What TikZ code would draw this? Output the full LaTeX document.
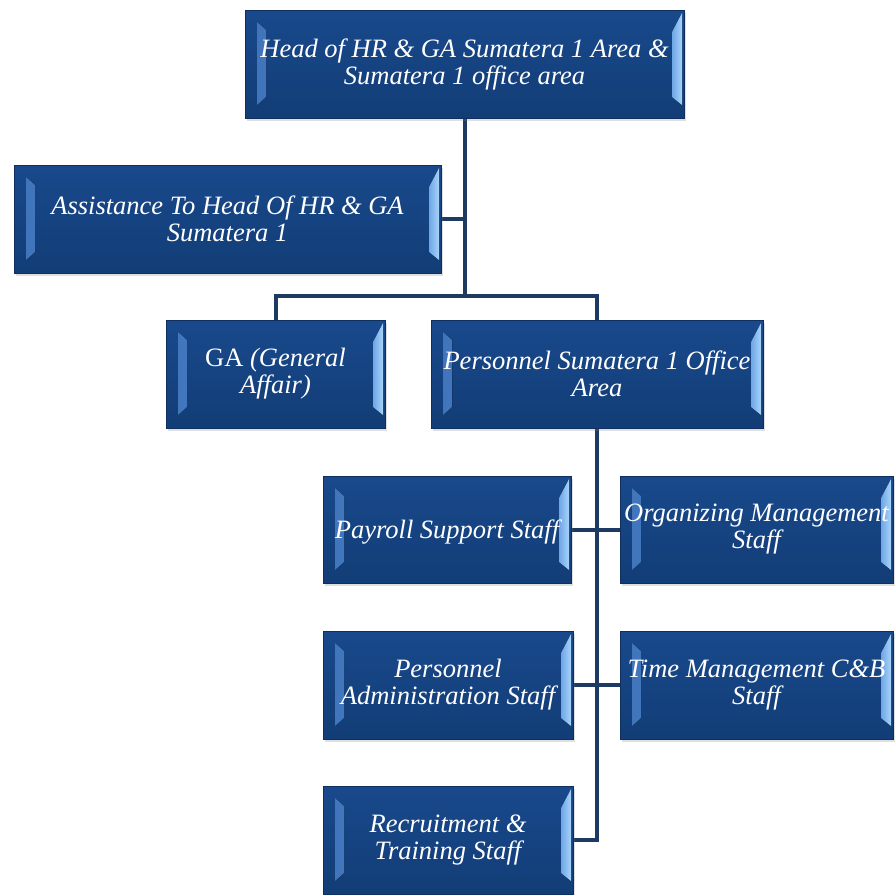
\documentclass[tikz,border=0pt]{standalone}
\usepackage{fontspec}
\setmainfont{Liberation Serif}
\usetikzlibrary{calc,shadows,backgrounds}

\definecolor{facetop}{HTML}{19498C}
\definecolor{facebot}{HTML}{123D76}
\definecolor{rimnavy}{HTML}{0F2F5E}
\definecolor{leftlo}{HTML}{3F74BB}
\definecolor{lefthi}{HTML}{5F96DA}
\definecolor{rightlo}{HTML}{6EA6E6}
\definecolor{righthi}{HTML}{A8D4FA}
\definecolor{linenavy}{HTML}{1F3A62}

% short name for the box being filled
\def\ppb{path picture bounding box}

\tikzset{
	orgbox/.style={rectangle, inner sep=0pt, align=center, text=white,
		font=\itshape\fontsize{26.5}{27}\selectfont,
		execute at begin node={\rule{0pt}{24pt}},
		draw=rimnavy, line width=0.6pt,
		top color=facetop, bottom color=facebot,
		drop shadow={opacity=0.25, shadow xshift=2pt, shadow yshift=-3pt},
		path picture={
			% left light strip
			\fill[left color=leftlo, right color=lefthi]
			($(\ppb.north west)+(12pt,-12pt)$) -- ($(\ppb.north west)+(21pt,-20pt)$)
			-- ($(\ppb.south west)+(21pt,21pt)$) -- ($(\ppb.south west)+(12pt,13pt)$) -- cycle;
			% right light strip
			\fill[left color=rightlo, right color=righthi]
			($(\ppb.north east)+(-12pt,-22pt)$) -- ($(\ppb.north east)+(-2pt,-3pt)$)
			-- ($(\ppb.south east)+(-2pt,13pt)$) -- ($(\ppb.south east)+(-12pt,21pt)$) -- cycle;
		}},
	conn/.style={draw=linenavy, line width=4pt}
}

\begin{document}
\begin{tikzpicture}[x=1pt,y=-1pt]
	
	% ---- (A) page frame ----
	\useasboundingbox (0,0) rectangle (896,894);
	
	% ---- (B) boxes ----
	\node[orgbox, minimum width=439pt, minimum height=108pt] (head) at (464.5,64)
	{Head of HR \& GA Sumatera 1 Area \&\\Sumatera 1 office area};
	\node[orgbox, minimum width=427pt, minimum height=108pt] (assist) at (227.5,219)
	{Assistance To Head Of HR \& GA\\Sumatera 1};
	\node[orgbox, minimum width=219pt, minimum height=108pt] (ga) at (275.5,374)
	{\upshape GA \itshape(General\\Affair)};
	\node[orgbox, minimum width=332pt, minimum height=108pt] (pers) at (597,374)
	{Personnel Sumatera 1 Office\\Area};
	\node[orgbox, minimum width=248pt, minimum height=107pt] (payroll) at (447,529.5)
	{Payroll Support Staff};
	\node[orgbox, minimum width=273pt, minimum height=107pt] (organizing) at (756.5,529.5)
	{Organizing Management\\Staff};
	\node[orgbox, minimum width=250pt, minimum height=108pt] (admin) at (448,685)
	{Personnel\\Administration Staff};
	\node[orgbox, minimum width=273pt, minimum height=108pt] (timemgmt) at (756.5,685)
	{Time Management C\&B\\Staff};
	\node[orgbox, minimum width=250pt, minimum height=108pt] (recruit) at (448,840)
	{Recruitment \&\\Training Staff};
	
	% ---- (C) connectors, behind the boxes ----
	\begin{scope}[on background layer]
		\coordinate (hub) at (464.5,296);
		\draw[conn] (head) -- (hub);
		\draw[conn] (assist.east) -- (assist.east -| hub);
		\draw[conn] (ga.north) |- (hub) -| (pers.north);
		\draw[conn] (pers.south) |- (recruit.east);
		\draw[conn] (payroll.east) -- (organizing.west);
		\draw[conn] (admin.east) -- (timemgmt.west);
	\end{scope}
	
\end{tikzpicture}
\end{document}
